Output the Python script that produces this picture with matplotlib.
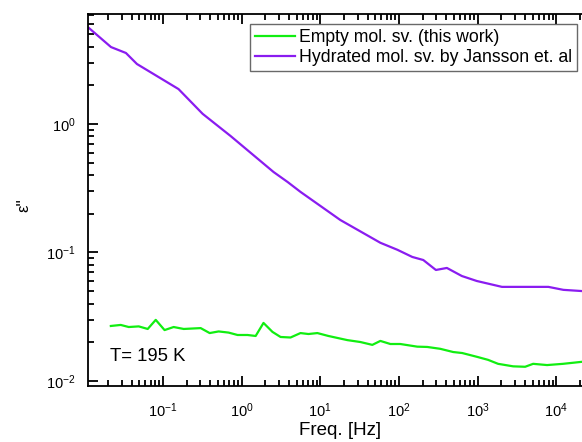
import matplotlib
matplotlib.use("Agg")
import matplotlib.pyplot as plt
from matplotlib.ticker import LogLocator, NullFormatter

plt.rcParams['font.family'] = ['Liberation Sans', 'DejaVu Sans']
plt.rcParams['mathtext.fontset'] = 'custom'
plt.rcParams['mathtext.rm'] = 'Liberation Sans'
plt.rcParams['mathtext.it'] = 'Liberation Sans'
plt.rcParams['mathtext.default'] = 'regular'
plt.rcParams['axes.unicode_minus'] = False

# hydrated molecular sieve (Jansson et al)
hyd_freq = [0.0115, 0.0219, 0.0339, 0.0468, 0.158, 0.320, 0.724, 2.55, 3.84,
            5.62, 18.0, 58.1, 95.5, 148, 204, 295, 407, 631, 977, 2040, 7940,
            12300, 21200]
hyd_eps = [5.58, 3.97, 3.57, 2.93, 1.87, 1.20, 0.807, 0.423, 0.354, 0.296,
           0.179, 0.119, 0.105, 0.0923, 0.0874, 0.0731, 0.0758, 0.0656, 0.060,
           0.054, 0.054, 0.0512, 0.0501]

# empty molecular sieve (this work)
emp_freq = [0.0218, 0.0291, 0.0368, 0.0493, 0.0641, 0.0811, 0.105, 0.137,
            0.184, 0.302, 0.393, 0.511, 0.684, 0.889, 1.19, 1.51, 1.90, 2.47,
            3.13, 4.19, 5.61, 7.08, 9.20, 12.7, 22.1, 32.4, 45.9, 58.1, 77.8,
            104, 171, 229, 335, 490, 638, 988, 1360, 1820, 2830, 4020, 5080,
            7640, 12200, 21200]
emp_eps = [0.0268, 0.0273, 0.0263, 0.0266, 0.0254, 0.0299, 0.0249, 0.0263,
           0.0254, 0.0258, 0.0236, 0.0243, 0.0238, 0.0228, 0.0228, 0.0224,
           0.0283, 0.0241, 0.0220, 0.0218, 0.0236, 0.0232, 0.0236, 0.0224,
           0.0208, 0.0201, 0.0191, 0.0205, 0.0194, 0.0194, 0.0185, 0.0184,
           0.0178, 0.0168, 0.0165, 0.0154, 0.0146, 0.0136, 0.0130, 0.0129,
           0.0136, 0.0133, 0.0136, 0.0141]

fig = plt.figure(figsize=(5.82, 4.42), dpi=100)
ax = fig.add_axes([88/582, 56/442, 494/582, 372/442])

ax.plot(emp_freq, emp_eps, color='#11ee11', lw=1.6, label='Empty mol. sv. (this work)')
ax.plot(hyd_freq, hyd_eps, color='#8a1cf0', lw=1.6, label='Hydrated mol. sv. by Jansson et. al')

ax.set_xscale('log')
ax.set_yscale('log')
ax.set_xlim(0.01117, 21230)
ax.set_ylim(0.00914, 7.18)

ax.xaxis.set_major_locator(LogLocator(base=10, numticks=20))
ax.xaxis.set_minor_locator(LogLocator(base=10, subs=range(2, 10), numticks=100))
ax.yaxis.set_major_locator(LogLocator(base=10, numticks=20))
ax.yaxis.set_minor_locator(LogLocator(base=10, subs=range(2, 10), numticks=100))
ax.xaxis.set_minor_formatter(NullFormatter())
ax.yaxis.set_minor_formatter(NullFormatter())

ax.tick_params(which='both', direction='in', top=True, right=False, width=1.3,
               labelsize=10.5)
ax.tick_params(axis='x', pad=11)
ax.tick_params(axis='y', pad=9)
ax.tick_params(which='major', length=7)
ax.tick_params(which='minor', length=4)
for s in ['left', 'bottom', 'top']:
    ax.spines[s].set_linewidth(1.3)
ax.spines['right'].set_visible(False)

ax.set_xlabel('Freq. [Hz]', fontsize=13.5, va='top')
ax.xaxis.set_label_coords(0.51, -0.098)
ax.set_ylabel("ε''", fontsize=12)
ax.yaxis.set_label_coords(-0.115, 0.487)

ax.text(0.045, 0.078, 'T= 195 K', transform=ax.transAxes, fontsize=13.3, va='center')

leg = ax.legend(loc='upper right', bbox_to_anchor=(0.99, 0.973), fontsize=12.7,
                frameon=True, fancybox=False, handlelength=2.27, handletextpad=0.23,
                borderaxespad=0, borderpad=0.28, labelspacing=0.17)
leg.get_frame().set_edgecolor('#444444')
leg.get_frame().set_linewidth(1.0)

fig.savefig('out.png', dpi=100)
